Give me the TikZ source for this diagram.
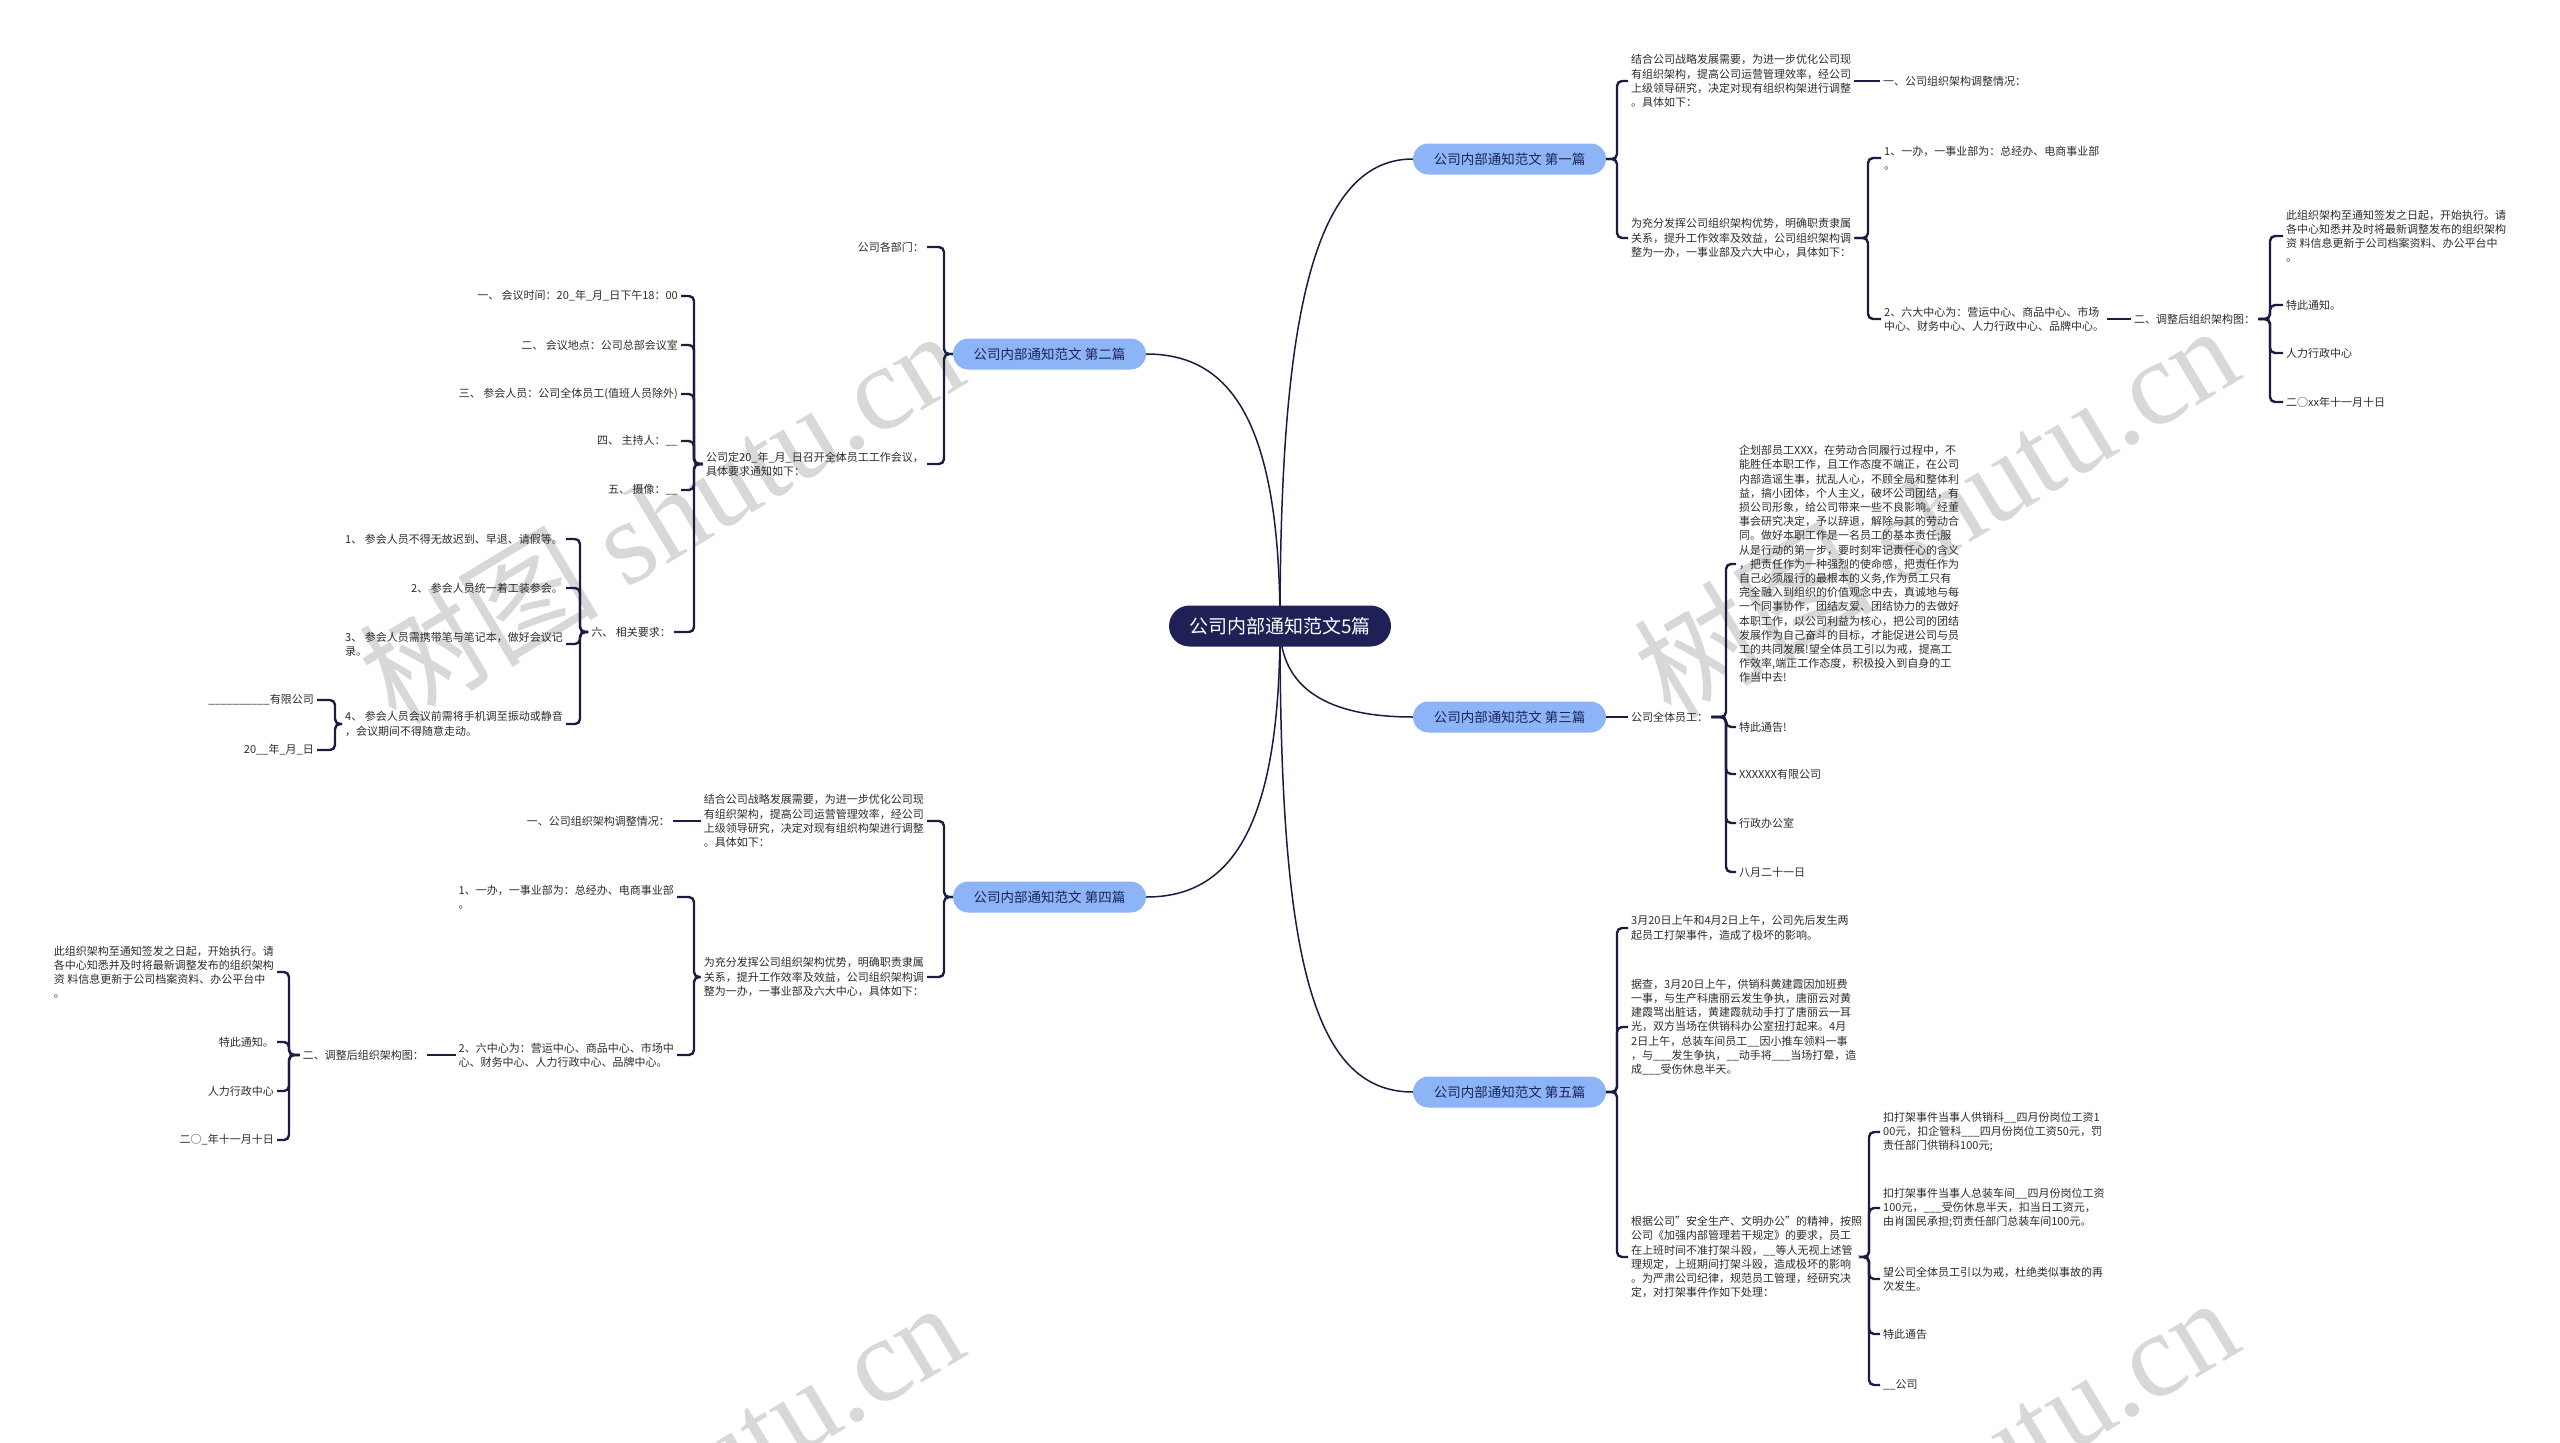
\documentclass[tikz,border=0pt]{standalone}
\usepackage{fontspec}
\setmainfont{Noto Sans CJK SC}
\newfontfamily\wmfont{Liberation Serif}
\usepackage{tikz}
\usetikzlibrary{backgrounds}
\definecolor{rootclr}{RGB}{30,32,86}
\definecolor{topicclr}{RGB}{141,180,247}
\definecolor{topictxt}{RGB}{28,36,88}
\definecolor{linkclr}{RGB}{26,28,66}
\definecolor{txtclr}{RGB}{45,45,45}
\definecolor{wmclr}{RGB}{216,216,216}
\tikzset{
  root/.style={fill=rootclr,text=white,rounded corners=20.5pt,
               minimum width=222pt,minimum height=41pt,inner sep=0pt,
               font=\fontsize{19}{22}\selectfont},
  topic/.style={fill=topicclr,text=topictxt,rounded corners=15.5pt,
                minimum width=193pt,minimum height=31pt,inner sep=0pt,
                font=\fontsize{13.5}{16}\selectfont},
  txt/.style={align=left,inner xsep=3pt,inner ysep=1pt,text=txtclr,
              font=\fontsize{11}{14.2}\selectfont},
  rtxt/.style={txt,anchor=west},
  ltxt/.style={txt,anchor=east},
  trunk/.style={draw=linkclr,line width=1.5pt},
  link/.style={draw=linkclr,line width=2.4pt,rounded corners=5pt},
  wmark/.style={text=wmclr,rotate=31,inner sep=0pt,
                font=\fontsize{120}{120}\selectfont},
}
\begin{document}
\begin{tikzpicture}[x=1pt,y=-1pt]
\useasboundingbox (0,0) rectangle (2560,1443);
% root and topics
\node[root] (root) at (1280,626) {公司内部通知范文5篇};
\node[topic] (b1) at (1509.5,159) {公司内部通知范文 第一篇};
\node[topic] (b2) at (1049.5,354) {公司内部通知范文 第二篇};
\node[topic] (b3) at (1509.5,717) {公司内部通知范文 第三篇};
\node[topic] (b4) at (1049.5,897) {公司内部通知范文 第四篇};
\node[topic] (b5) at (1509.5,1092) {公司内部通知范文 第五篇};
% 第一篇
\node[rtxt] (n1a) at (1628,81) {结合公司战略发展需要，为进一步优化公司现\\有组织架构，提高公司运营管理效率，经公司\\上级领导研究，决定对现有组织构架进行调整\\。具体如下：};
\node[rtxt] (n1aa) at (1880,81) {一、公司组织架构调整情况：};
\node[rtxt] (n1b) at (1628,238) {为充分发挥公司组织架构优势，明确职责隶属\\关系，提升工作效率及效益，公司组织架构调\\整为一办，一事业部及六大中心，具体如下：};
\node[rtxt] (n1ba) at (1881,158) {1、一办，一事业部为：总经办、电商事业部\\。};
\node[rtxt] (n1bb) at (1881,319) {2、六大中心为：营运中心、商品中心、市场\\中心、财务中心、人力行政中心、品牌中心。};
\node[rtxt] (n1bba) at (2131,319) {二、调整后组织架构图：};
\node[rtxt] (n1bbaa) at (2283,236) {此组织架构至通知签发之日起，开始执行。请\\各中心知悉并及时将最新调整发布的组织架构\\资 料信息更新于公司档案资料、办公平台中\\。};
\node[rtxt] (n1bbab) at (2283,305) {特此通知。};
\node[rtxt] (n1bbac) at (2283,353) {人力行政中心};
\node[rtxt] (n1bbad) at (2283,402) {二○xx年十一月十日};
% 第二篇
\node[ltxt] (n2a) at (927,247) {公司各部门：};
\node[ltxt] (n2b) at (927,464) {公司定20\_年\_月\_日召开全体员工工作会议，\\具体要求通知如下：};
\node[ltxt] (n2ba) at (681,296) {一、 会议时间：20\_年\_月\_日下午18：00};
\node[ltxt] (n2bb) at (681,345) {二、 会议地点：公司总部会议室};
\node[ltxt] (n2bc) at (681,394) {三、 参会人员：公司全体员工(值班人员除外)};
\node[ltxt] (n2bd) at (681,441) {四、 主持人：\_\_};
\node[ltxt] (n2be) at (681,490) {五、 摄像：\_\_};
\node[ltxt] (n2bf) at (674,632) {六、 相关要求：};
\node[ltxt] (n2bfa) at (566,539) {1、 参会人员不得无故迟到、早退、请假等。};
\node[ltxt] (n2bfb) at (566,588) {2、 参会人员统一着工装参会。};
\node[ltxt] (n2bfc) at (566,644) {3、 参会人员需携带笔与笔记本，做好会议记\\录。};
\node[ltxt] (n2bfd) at (566,724) {4、 参会人员会议前需将手机调至振动或静音\\，会议期间不得随意走动。};
\node[ltxt] (n2bfda) at (317,700) {\_\_\_\_\_\_\_\_\_\_有限公司};
\node[ltxt] (n2bfdb) at (317,750) {20\_\_年\_月\_日};
% 第三篇
\node[rtxt] (n3a) at (1628,717) {公司全体员工：};
\node[rtxt] (n3aa) at (1736,564) {企划部员工XXX，在劳动合同履行过程中，不\\能胜任本职工作，且工作态度不端正，在公司\\内部造谣生事，扰乱人心，不顾全局和整体利\\益，搞小团体，个人主义，破坏公司团结，有\\损公司形象，给公司带来一些不良影响。经董\\事会研究决定，予以辞退，解除与其的劳动合\\同。做好本职工作是一名员工的基本责任;服\\从是行动的第一步，要时刻牢记责任心的含义\\，把责任作为一种强烈的使命感，把责任作为\\自己必须履行的最根本的义务,作为员工只有\\完全融入到组织的价值观念中去，真诚地与每\\一个同事协作，团结友爱、团结协力的去做好\\本职工作，以公司利益为核心，把公司的团结\\发展作为自己奋斗的目标，才能促进公司与员\\工的共同发展!望全体员工引以为戒，提高工\\作效率,端正工作态度，积极投入到自身的工\\作当中去!};
\node[rtxt] (n3ab) at (1736,727) {特此通告!};
\node[rtxt] (n3ac) at (1736,774) {XXXXXX有限公司};
\node[rtxt] (n3ad) at (1736,823) {行政办公室};
\node[rtxt] (n3ae) at (1736,872) {八月二十一日};
% 第四篇
\node[ltxt] (n4a) at (927,821) {结合公司战略发展需要，为进一步优化公司现\\有组织架构，提高公司运营管理效率，经公司\\上级领导研究，决定对现有组织构架进行调整\\。具体如下：};
\node[ltxt] (n4aa) at (673,821) {一、公司组织架构调整情况：};
\node[ltxt] (n4b) at (927,977) {为充分发挥公司组织架构优势，明确职责隶属\\关系，提升工作效率及效益，公司组织架构调\\整为一办，一事业部及六大中心，具体如下：};
\node[ltxt] (n4ba) at (677,897) {1、一办，一事业部为：总经办、电商事业部\\。};
\node[ltxt] (n4bb) at (677,1055) {2、六中心为：营运中心、商品中心、市场中\\心、财务中心、人力行政中心、品牌中心。};
\node[ltxt] (n4bba) at (427,1055) {二、调整后组织架构图：};
\node[ltxt] (n4bbaa) at (277,972) {此组织架构至通知签发之日起，开始执行。请\\各中心知悉并及时将最新调整发布的组织架构\\资 料信息更新于公司档案资料、办公平台中\\。};
\node[ltxt] (n4bbab) at (277,1042) {特此通知。};
\node[ltxt] (n4bbac) at (277,1091) {人力行政中心};
\node[ltxt] (n4bbad) at (277,1140) {二○\_年十一月十日};
% 第五篇
\node[rtxt] (n5a) at (1628,928) {3月20日上午和4月2日上午，公司先后发生两\\起员工打架事件，造成了极坏的影响。};
\node[rtxt] (n5b) at (1628,1027) {据查，3月20日上午，供销科黄建霞因加班费\\一事，与生产科唐丽云发生争执，唐丽云对黄\\建霞骂出脏话，黄建霞就动手打了唐丽云一耳\\光，双方当场在供销科办公室扭打起来。4月\\2日上午，总装车间员工\_\_因小推车领料一事\\，与\_\_\_发生争执，\_\_动手将\_\_\_当场打晕，造\\成\_\_\_受伤休息半天。};
\node[rtxt] (n5c) at (1628,1257) {根据公司"安全生产、文明办公"的精神，按照\\公司《加强内部管理若干规定》的要求，员工\\在上班时间不准打架斗殴，\_\_等人无视上述管\\理规定，上班期间打架斗殴，造成极坏的影响\\。为严肃公司纪律，规范员工管理，经研究决\\定，对打架事件作如下处理：};
\node[rtxt] (n5ca) at (1880,1132) {扣打架事件当事人供销科\_\_四月份岗位工资1\\00元，扣企管科\_\_\_四月份岗位工资50元，罚\\责任部门供销科100元;};
\node[rtxt] (n5cb) at (1880,1208) {扣打架事件当事人总装车间\_\_四月份岗位工资\\100元，\_\_\_受伤休息半天，扣当日工资元，\\由肖国民承担;罚责任部门总装车间100元。};
\node[rtxt] (n5cc) at (1880,1279) {望公司全体员工引以为戒，杜绝类似事故的再\\次发生。};
\node[rtxt] (n5cd) at (1880,1334) {特此通告};
\node[rtxt] (n5ce) at (1880,1385) {\_\_公司};
% bracket joints
\coordinate (k1) at (1617,159);
\coordinate (k1b) at (1868,238);
\coordinate (k1bba) at (2270,319);
\coordinate (k2) at (944,354);
\coordinate (k2b) at (694,464);
\coordinate (k2bf) at (580,632);
\coordinate (k2bfd) at (335,724);
\coordinate (k3a) at (1726,717);
\coordinate (k4) at (944,897);
\coordinate (k4b) at (694,977);
\coordinate (k4bba) at (289,1055);
\coordinate (k5) at (1617,1092);
\coordinate (k5c) at (1869,1257);
% connectors
\foreach \c in {n1a,n1b} \draw[link] (b1.east) -- (k1) |- (\c.west);
\draw[link] (n1a.east) -- (n1aa.west);
\foreach \c in {n1ba,n1bb} \draw[link] (n1b.east) -- (k1b) |- (\c.west);
\draw[link] (n1bb.east) -- (n1bba.west);
\foreach \c in {n1bbaa,n1bbab,n1bbac,n1bbad} \draw[link] (n1bba.east) -- (k1bba) |- (\c.west);
\foreach \c in {n2a,n2b} \draw[link] (b2.west) -- (k2) |- (\c.east);
\foreach \c in {n2ba,n2bb,n2bc,n2bd,n2be,n2bf} \draw[link] (n2b.west) -- (k2b) |- (\c.east);
\foreach \c in {n2bfa,n2bfb,n2bfc,n2bfd} \draw[link] (n2bf.west) -- (k2bf) |- (\c.east);
\foreach \c in {n2bfda,n2bfdb} \draw[link] (n2bfd.west) -- (k2bfd) |- (\c.east);
\draw[link] (b3.east) -- (n3a.west);
\foreach \c in {n3aa,n3ab,n3ac,n3ad,n3ae} \draw[link] (n3a.east) -- (k3a) |- (\c.west);
\foreach \c in {n4a,n4b} \draw[link] (b4.west) -- (k4) |- (\c.east);
\draw[link] (n4a.west) -- (n4aa.east);
\foreach \c in {n4ba,n4bb} \draw[link] (n4b.west) -- (k4b) |- (\c.east);
\draw[link] (n4bb.west) -- (n4bba.east);
\foreach \c in {n4bbaa,n4bbab,n4bbac,n4bbad} \draw[link] (n4bba.west) -- (k4bba) |- (\c.east);
\foreach \c in {n5a,n5b,n5c} \draw[link] (b5.east) -- (k5) |- (\c.west);
\foreach \c in {n5ca,n5cb,n5cc,n5cd,n5ce} \draw[link] (n5c.east) -- (k5c) |- (\c.west);
\begin{scope}[on background layer]
\fill[white] (0,0) rectangle (2560,1443);
\begin{scope}
\clip (0,0) rectangle (2560,1443);
\foreach \x/\y [count=\i] in {660/515,1935/510,660/1487,1935/1482}
  \node[wmark] (wm\i) at (\x,\y) {树图 {\wmfont shutu.cn}};
\end{scope}
\draw[trunk] (root.center) .. controls (1280,330) and (1310,159) .. (b1.west);
\draw[trunk] (root.center) .. controls (1280,420) and (1230,354) .. (b2.east);
\draw[trunk] (root.center) .. controls (1280,690) and (1330,717) .. (b3.west);
\draw[trunk] (root.center) .. controls (1280,830) and (1230,897) .. (b4.east);
\draw[trunk] (root.center) .. controls (1280,950) and (1310,1092) .. (b5.west);
\end{scope}
\end{tikzpicture}
\end{document}
